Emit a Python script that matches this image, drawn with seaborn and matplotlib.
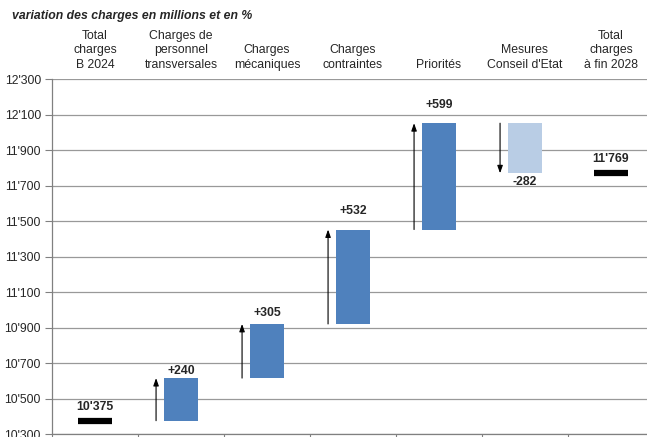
import numpy as np
import pandas as pd
import seaborn as sns
import matplotlib.pyplot as plt
import matplotlib.transforms as mtransforms

sns.set_style("white")
plt.rcParams['font.family'] = ['Liberation Sans', 'DejaVu Sans']

# Data
categories = ["Total\ncharges\nB 2024", "Charges de\npersonnel\ntransversales",
              "Charges\nmécaniques", "Charges\ncontraintes", "Priorités",
              "Mesures\nConseil d'Etat", "Total\ncharges\nà fin 2028"]
base_total = 10375
deltas = [240, 305, 532, 599, -282]
final_total = 11769
yticks = np.arange(10300, 12301, 200)

# waterfall levels
levels = base_total + np.cumsum([0] + deltas)
starts = list(levels[:-1])
heights = [0] + deltas + [0]
bottoms = [base_total] + starts + [final_total]
df = pd.DataFrame({"cat": categories, "height": heights})

blue = "#4F81BD"
light = "#B9CDE5"
colors = ["none", blue, blue, blue, blue, light, "none"]

fig = plt.figure(figsize=(6.47, 4.37), dpi=100)
ax = fig.add_axes([52 / 647, 3 / 437, 602 / 647, 355 / 437])

sns.barplot(data=df, x="cat", y="height", bottom=bottoms, width=0.4,
            color=blue, linewidth=0, ax=ax, zorder=3)
for p, c in zip(ax.patches, colors):
    p.set_facecolor(c)

# totals as thick black markers
for i, v in [(0, base_total), (6, final_total)]:
    ax.hlines(v, i - 0.2, i + 0.2, color="black", lw=4.5, zorder=4)
    ax.annotate(f"{v:,}".replace(",", "'"), (i, v), xytext=(0, 14),
                textcoords="offset pixels", ha="center", va="center",
                fontsize=8.8, fontweight="bold")

# arrows and labels for changes
label_off = [7, 11, 19, 18, -9]
for k, d in enumerate(deltas):
    i = k + 1
    s = starts[k]
    e = s + d
    ax.annotate("", xy=(i - 0.29, e), xytext=(i - 0.29, s),
                arrowprops=dict(arrowstyle="-|>,head_length=0.45,head_width=0.16",
                                color="black", lw=0.8, shrinkA=0, shrinkB=0),
                zorder=5)
    top = max(s, e) if d > 0 else min(s, e)
    txt = f"+{d}" if d > 0 else f"{d}"
    ax.annotate(txt, (i, top), xytext=(0, label_off[k]), textcoords="offset pixels",
                ha="center", va="center", fontsize=8.8, fontweight="bold")

# headers above the plot
trans = mtransforms.blended_transform_factory(ax.transData, ax.transAxes)
for i, c in enumerate(categories):
    ax.text(i, 1.022, c, transform=trans, ha="center", va="bottom",
            fontsize=8.8, linespacing=1.3)

ax.set_ylim(10300, 12300)
ax.set_xlim(-0.5, 6.5)
ax.set_yticks(yticks)
ax.set_yticklabels([f"{v:,}".replace(",", "'") for v in yticks], fontsize=8.8)
ax.set_xticks(np.arange(-0.5, 7, 1))
ax.set_xticklabels([])
ax.tick_params(axis="y", length=5, color="#808080", pad=3, left=True)
ax.tick_params(axis="x", length=5, color="#808080", bottom=True)
ax.grid(axis="y", color="#999999", lw=0.9, zorder=0)
ax.set_axisbelow(True)
ax.set_xlabel("")
ax.set_ylabel("")
for side in ["top", "right"]:
    ax.spines[side].set_visible(False)
for side in ["left", "bottom"]:
    ax.spines[side].set_color("#808080")
    ax.spines[side].set_linewidth(0.9)

fig.text(12 / 647, 1 - 16 / 437, "variation des charges en millions et en %",
         fontsize=8.8, fontweight="bold", fontstyle="italic", va="center")

fig.savefig("out.png", dpi=100)
